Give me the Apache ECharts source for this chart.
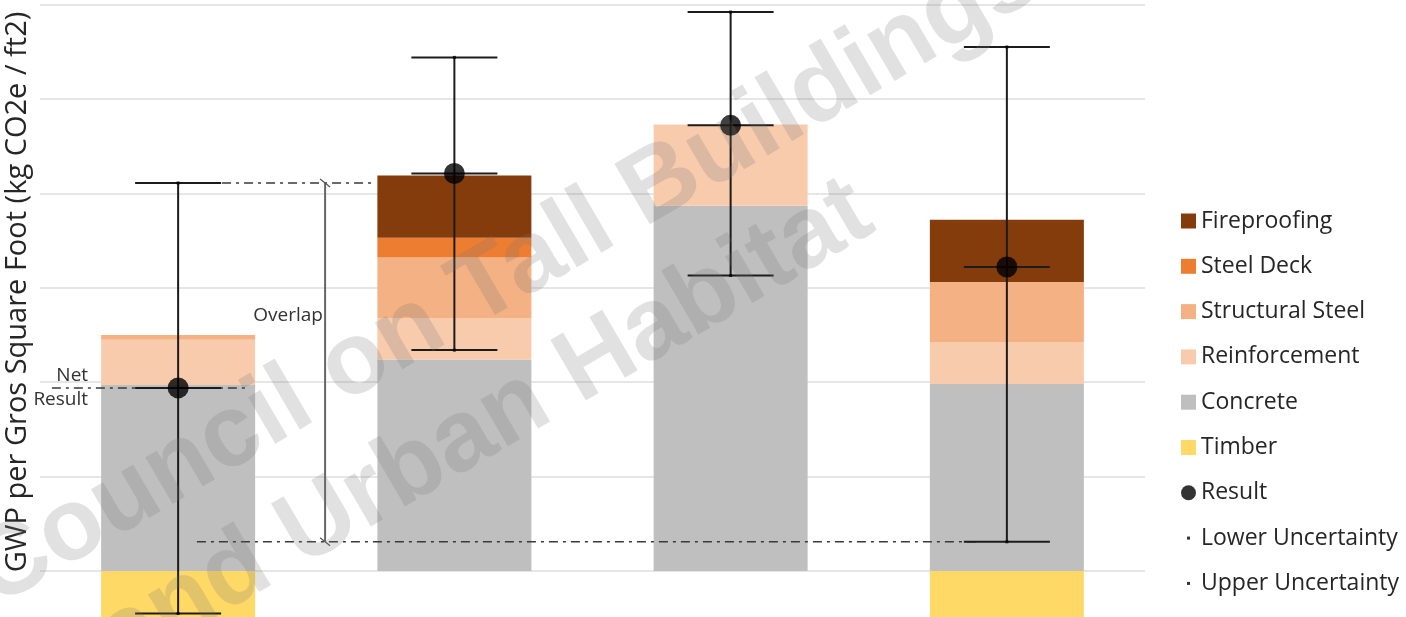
<!DOCTYPE html>
<html>
<head>
<meta charset="utf-8">
<title>GWP per Gross Square Foot</title>
<script src="https://cdn.jsdelivr.net/npm/echarts@6/dist/echarts.min.js"></script>
<style>
  html, body { margin: 0; padding: 0; background: #fff; }
  #chart { width: 1406px; height: 617px; }
</style>
</head>
<body>
<div id="chart"></div>
<script>
// values (kg CO2e / ft2)
var categories = ['Option 1', 'Option 2', 'Option 3', 'Option 4'];
var timber = [-0.5, 0, 0, -0.5];
var concrete = [1.97, 2.24, 3.87, 1.98];
var reinforcement = [0.48, 0.44, 0.86, 0.44];
var structuralSteel = [0.05, 0.64, 0, 0.64];
var steelDeck = [0, 0.21, 0, 0];
var fireproofing = [0, 0.66, 0, 0.66];
var result = [1.94, 4.21, 4.72, 3.22];
var lowerUncertainty = [-0.45, 2.34, 3.13, 0.31];
var upperUncertainty = [4.11, 5.44, 5.92, 5.55];
var yTicks = [-1, 0, 1, 2, 3, 4, 5, 6];

var FONT = '"Open Sans"';
var dotIcon = 'path://M0,0M15,15M6,6h3v3h-3z';

var chart = echarts.init(document.getElementById('chart'));

function barSeries(name, data, color) {
    return {
        name: name,
        type: 'bar',
        stack: 'gwp',
        data: data,
        barWidth: 154,
        itemStyle: { color: color },
        emphasis: { disabled: true },
        z: 2
    };
}

// error bars: vertical line plus caps at lower, result and upper
function renderErrorBar(params, api) {
    var x = api.value(0);
    var lo = api.coord([x, api.value(1)]);
    var mid = api.coord([x, api.value(2)]);
    var hi = api.coord([x, api.value(3)]);
    var hw = 43;
    var st = { stroke: '#1c1c1c', lineWidth: 2 };
    function cap(p) {
        return { type: 'line', shape: { x1: p[0] - hw, y1: p[1], x2: p[0] + hw, y2: p[1] }, style: st };
    }
    return {
        type: 'group',
        children: [
            { type: 'line', shape: { x1: lo[0], y1: lo[1], x2: hi[0], y2: hi[1] }, style: st },
            cap(lo), cap(mid), cap(hi)
        ]
    };
}

// annotation lines ("Net Result", "Overlap") on a hidden value x axis
function renderAnnotations(params, api) {
    var dash = [9, 5, 3, 5];
    function dashed(x1, y1, x2, y2) {
        var a = api.coord([x1, y1]), b = api.coord([x2, y2]);
        return { type: 'line', shape: { x1: a[0], y1: a[1], x2: b[0], y2: b[1] },
                 style: { stroke: '#3a3a3a', lineWidth: 1.5, lineDash: dash } };
    }
    function label(x, y, txt) {
        var p = api.coord([x, y]);
        return { type: 'text', x: p[0], y: p[1],
                 style: { text: txt, fontFamily: FONT, fontSize: 19, fill: '#333', align: 'right',
                          verticalAlign: 'middle', lineHeight: 24 } };
    }
    var top = api.coord([0.532, upperUncertainty[0]]);
    var bot = api.coord([0.532, lowerUncertainty[3]]);
    var tick = { stroke: '#555', lineWidth: 1.2 };
    return {
        type: 'group',
        children: [
            dashed(-0.457, result[0], 0.26, result[0]),
            dashed(0.159, upperUncertainty[0], 0.716, upperUncertainty[0]),
            dashed(0.068, lowerUncertainty[3], 2.9, lowerUncertainty[3]),
            { type: 'line', shape: { x1: top[0], y1: top[1], x2: bot[0], y2: bot[1] },
              style: { stroke: '#666', lineWidth: 2 } },
            { type: 'line', shape: { x1: top[0] - 5, y1: top[1] - 4, x2: top[0] + 5, y2: top[1] + 4 }, style: tick },
            { type: 'line', shape: { x1: bot[0] - 5, y1: bot[1] - 4, x2: bot[0] + 5, y2: bot[1] + 4 }, style: tick },
            label(0.524, 2.71, 'Overlap'),
            label(-0.326, result[0], 'Net\nResult')
        ]
    };
}

var option = {
    animation: false,
    backgroundColor: '#fff',
    grid: { left: 40, right: 261, top: 4.5, height: 661, outerBoundsMode: 'none' },
    xAxis: [{
        type: 'category',
        data: categories,
        axisLine: { show: false },
        axisTick: { show: false },
        axisLabel: { show: false },
        splitLine: { show: false }
    }, {
        type: 'value',
        min: -0.5,
        max: 3.5,
        show: false
    }],
    yAxis: {
        type: 'value',
        min: yTicks[0],
        max: yTicks[yTicks.length - 1],
        interval: 1,
        axisLine: { show: false },
        axisTick: { show: false },
        axisLabel: { show: false },
        splitLine: { lineStyle: { color: '#dedede', width: 1.5 } }
    },
    legend: {
        orient: 'vertical',
        left: 1181,
        top: 209,
        padding: 0,
        itemWidth: 15,
        itemHeight: 15,
        itemGap: 21.3,
        selectedMode: false,
        textStyle: { fontFamily: FONT, fontSize: 23, color: '#262626', lineHeight: 24 },
        data: [
            { name: 'Fireproofing', icon: 'rect' },
            { name: 'Steel Deck', icon: 'rect' },
            { name: 'Structural Steel', icon: 'rect' },
            { name: 'Reinforcement', icon: 'rect' },
            { name: 'Concrete', icon: 'rect' },
            { name: 'Timber', icon: 'rect' },
            { name: 'Result', icon: 'circle' },
            { name: 'Lower Uncertainty', icon: dotIcon },
            { name: 'Upper Uncertainty', icon: dotIcon }
        ]
    },
    graphic: [{
        type: 'text',
        x: 18,
        y: 292,
        rotation: Math.PI / 2,
        style: {
            text: 'GWP per Gros Square Foot (kg CO2e / ft2)',
            fontFamily: FONT, fontSize: 29, fill: '#262626',
            align: 'center', verticalAlign: 'middle'
        }
    }, {
        type: 'text',
        x: 506, y: 276,
        rotation: 0.53,
        z: 100,
        style: {
            text: 'Council on Tall Buildings',
            font: 'bold 102px "Liberation Sans"',
            fill: 'rgba(120,120,120,0.22)',
            align: 'center', verticalAlign: 'middle'
        }
    }, {
        type: 'text',
        x: 485, y: 427,
        rotation: 0.53,
        z: 100,
        style: {
            text: 'and Urban Habitat',
            font: 'bold 102px "Liberation Sans"',
            fill: 'rgba(120,120,120,0.22)',
            align: 'center', verticalAlign: 'middle'
        }
    }],
    series: [
        barSeries('Timber', timber, '#FFD966'),
        barSeries('Concrete', concrete, '#BFBFBF'),
        barSeries('Reinforcement', reinforcement, '#F8CBAD'),
        barSeries('Structural Steel', structuralSteel, '#F4B183'),
        barSeries('Steel Deck', steelDeck, '#ED7D31'),
        barSeries('Fireproofing', fireproofing, '#843C0C'),
        {
            name: 'Annotations',
            type: 'custom',
            xAxisIndex: 1,
            data: [[0, 0]],
            renderItem: renderAnnotations,
            silent: true,
            z: 4
        },
        {
            name: 'Uncertainty Range',
            type: 'custom',
            data: categories.map(function (c, i) {
                return [i, lowerUncertainty[i], result[i], upperUncertainty[i]];
            }),
            renderItem: renderErrorBar,
            silent: true,
            z: 5
        },
        {
            name: 'Result',
            type: 'scatter',
            data: result,
            symbol: 'circle',
            symbolSize: 21,
            itemStyle: { color: '#000' },
            z: 6
        },
        {
            name: 'Lower Uncertainty',
            type: 'scatter',
            data: lowerUncertainty,
            symbol: 'rect',
            symbolSize: 3,
            itemStyle: { color: '#000' },
            z: 6
        },
        {
            name: 'Upper Uncertainty',
            type: 'scatter',
            data: upperUncertainty,
            symbol: 'rect',
            symbolSize: 3,
            itemStyle: { color: '#000' },
            z: 6
        }
    ]
};

chart.setOption(option);
</script>
</body>
</html>
